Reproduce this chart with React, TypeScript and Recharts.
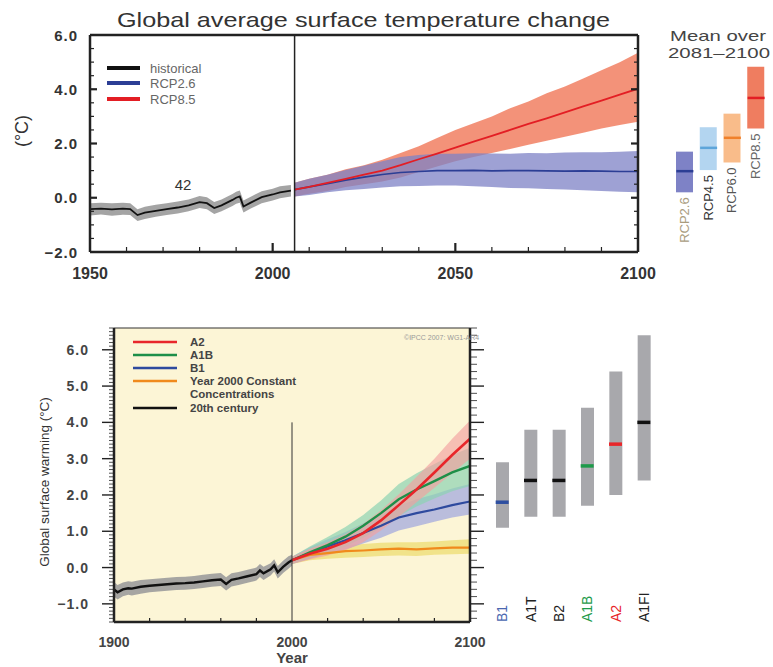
import React from 'react';
import {
  ComposedChart,
  Line,
  Area,
  Bar,
  Cell,
  Scatter,
  XAxis,
  YAxis,
  CartesianGrid,
  ReferenceLine,
  LabelList,
} from 'recharts';

// ---------- upper panel: AR5 / CMIP5 ----------
const histYears = [1950, 1953, 1956, 1959, 1961, 1963, 1965, 1968, 1971, 1974, 1977, 1980, 1982, 1984, 1986, 1989, 1990, 1991, 1992, 1994, 1997, 2000, 2002, 2005];
const histMean = [-0.42, -0.4, -0.43, -0.4, -0.42, -0.64, -0.55, -0.48, -0.42, -0.36, -0.28, -0.16, -0.2, -0.38, -0.28, -0.08, 0.0, 0.05, -0.32, -0.18, 0.02, 0.12, 0.2, 0.26];
const histLow = [-0.65, -0.62, -0.66, -0.63, -0.64, -0.86, -0.78, -0.7, -0.64, -0.58, -0.5, -0.38, -0.42, -0.6, -0.5, -0.3, -0.22, -0.18, -0.54, -0.4, -0.2, -0.1, -0.02, 0.05];
const histHigh = [-0.2, -0.18, -0.2, -0.18, -0.2, -0.42, -0.33, -0.26, -0.2, -0.14, -0.06, 0.06, 0.02, -0.16, -0.06, 0.14, 0.22, 0.27, -0.1, 0.04, 0.24, 0.33, 0.42, 0.47];

const rcpYears = [2006, 2010, 2015, 2020, 2025, 2030, 2035, 2040, 2045, 2050, 2055, 2060, 2065, 2070, 2075, 2080, 2085, 2090, 2095, 2100];
const rcp85Mean = [0.3, 0.4, 0.55, 0.7, 0.85, 1.0, 1.2, 1.42, 1.63, 1.85, 2.07, 2.28, 2.5, 2.72, 2.93, 3.15, 3.37, 3.58, 3.8, 4.02];
const rcp85Low = [0.05, 0.15, 0.25, 0.4, 0.5, 0.6, 0.75, 0.95, 1.15, 1.35, 1.5, 1.65, 1.8, 1.95, 2.1, 2.25, 2.4, 2.55, 2.68, 2.8];
const rcp85High = [0.55, 0.7, 0.85, 1.05, 1.2, 1.4, 1.65, 1.9, 2.2, 2.5, 2.75, 3.0, 3.3, 3.55, 3.85, 4.1, 4.4, 4.7, 5.0, 5.35];
const rcp26Mean = [0.3, 0.4, 0.52, 0.65, 0.76, 0.86, 0.93, 0.97, 1.0, 1.0, 1.01, 0.99, 1.0, 1.0, 0.99, 0.98, 0.99, 0.98, 0.97, 0.97];
const rcp26Low = [0.05, 0.1, 0.2, 0.28, 0.32, 0.38, 0.42, 0.43, 0.45, 0.45, 0.42, 0.4, 0.36, 0.35, 0.32, 0.3, 0.28, 0.25, 0.22, 0.2];
const rcp26High = [0.55, 0.7, 0.85, 1.02, 1.18, 1.35, 1.5, 1.58, 1.62, 1.62, 1.64, 1.63, 1.62, 1.65, 1.64, 1.67, 1.68, 1.68, 1.7, 1.72];

const rcpNames = ['RCP2.6', 'RCP4.5', 'RCP6.0', 'RCP8.5'];
const rcpMean = [0.98, 1.84, 2.21, 3.68];
const rcpLow = [0.2, 1.02, 1.3, 2.55];
const rcpHigh = [1.7, 2.6, 3.1, 4.83];

const topYearLabels = [1950, 2000, 2050, 2100];
const topYLabels = [-2, 0, 2, 4, 6];

// ---------- lower panel: AR4 / SRES ----------
const ar4Years = [1900, 1902, 1905, 1908, 1910, 1915, 1920, 1925, 1930, 1935, 1940, 1945, 1950, 1955, 1960, 1963, 1966, 1970, 1975, 1980, 1982, 1984, 1988, 1990, 1992, 1995, 1998, 2000];
const ar4Mean = [-0.6, -0.68, -0.6, -0.57, -0.58, -0.53, -0.5, -0.48, -0.46, -0.44, -0.43, -0.41, -0.38, -0.35, -0.33, -0.45, -0.34, -0.3, -0.24, -0.18, -0.08, -0.16, -0.05, 0.06, -0.13, 0.02, 0.14, 0.2];
const ar4Low = [-0.8, -0.88, -0.79, -0.75, -0.77, -0.72, -0.68, -0.66, -0.64, -0.62, -0.61, -0.59, -0.56, -0.53, -0.51, -0.63, -0.52, -0.48, -0.42, -0.36, -0.26, -0.34, -0.22, -0.11, -0.3, -0.15, -0.03, 0.05];
const ar4High = [-0.4, -0.48, -0.41, -0.38, -0.39, -0.34, -0.32, -0.3, -0.28, -0.26, -0.25, -0.23, -0.2, -0.17, -0.15, -0.27, -0.16, -0.12, -0.06, 0.0, 0.1, 0.02, 0.12, 0.23, 0.04, 0.19, 0.31, 0.35];

const sresYears = [2000, 2010, 2020, 2030, 2040, 2050, 2060, 2070, 2080, 2090, 2100];
const a2Mean = [0.2, 0.38, 0.52, 0.7, 0.95, 1.3, 1.72, 2.15, 2.62, 3.1, 3.55];
const a2Low = [0.1, 0.22, 0.33, 0.48, 0.7, 1.02, 1.4, 1.8, 2.2, 2.6, 3.0];
const a2High = [0.3, 0.52, 0.7, 0.92, 1.2, 1.58, 2.02, 2.5, 3.0, 3.55, 4.05];
const a1bMean = [0.2, 0.42, 0.62, 0.85, 1.15, 1.5, 1.88, 2.15, 2.38, 2.62, 2.8];
const a1bLow = [0.1, 0.25, 0.4, 0.58, 0.82, 1.1, 1.42, 1.68, 1.9, 2.1, 2.25];
const a1bHigh = [0.3, 0.58, 0.84, 1.12, 1.45, 1.85, 2.3, 2.6, 2.85, 3.1, 3.3];
const b1Mean = [0.2, 0.4, 0.58, 0.75, 0.95, 1.15, 1.38, 1.5, 1.6, 1.72, 1.82];
const b1Low = [0.1, 0.24, 0.38, 0.5, 0.66, 0.82, 1.02, 1.14, 1.26, 1.38, 1.46];
const b1High = [0.3, 0.56, 0.78, 0.98, 1.22, 1.45, 1.7, 1.88, 2.02, 2.18, 2.3];
const constMean = [0.2, 0.35, 0.4, 0.45, 0.47, 0.5, 0.52, 0.5, 0.53, 0.55, 0.55];
const constLow = [0.1, 0.2, 0.24, 0.27, 0.29, 0.32, 0.33, 0.32, 0.35, 0.37, 0.38];
const constHigh = [0.3, 0.5, 0.56, 0.62, 0.65, 0.68, 0.7, 0.7, 0.72, 0.75, 0.78];

const sresNames = ['B1', 'A1T', 'B2', 'A1B', 'A2', 'A1FI'];
const sresBest = [1.8, 2.4, 2.4, 2.8, 3.4, 4.0];
const sresLow = [1.1, 1.4, 1.4, 1.7, 2.0, 2.4];
const sresHigh = [2.9, 3.8, 3.8, 4.4, 5.4, 6.4];

const botYearLabels = [1900, 2000, 2100];
const botYLabels = [-1, 0, 1, 2, 3, 4, 5, 6];

// ---------- styles ----------
const FONT = '"Liberation Sans", Arial, sans-serif';
const rcpBoxFill = ['#7E82C6', '#B3D5F0', '#F9BC8A', '#EF7D60'];
const rcpMeanStroke = ['#2C3E95', '#5DA5DA', '#F0802A', '#E31E24'];
const rcpLabelFill = ['#A99C7E', '#333', '#555', '#666'];
const sresMarkStroke = ['#2E4FA0', '#111', '#111', '#1E9A4A', '#E8262A', '#111'];
const sresLabelFill = ['#4A67B0', '#222', '#222', '#1E9A4A', '#E8262A', '#222'];

const ticksBetween = (from: number, to: number, step: number) => {
  const out: number[] = [];
  for (let v = from; v <= to + 1e-9; v += step) out.push(Math.round(v * 100) / 100);
  return out;
};
const fmt = (v: number) => (v < 0 ? '\u2212' : '') + Math.abs(v).toFixed(1);

// ---------- tables ----------
const topData = [
  ...histYears.map((year, i) => ({ year, hist: histMean[i], histBand: [histLow[i], histHigh[i]] })),
  ...rcpYears.map((year, i) => ({
    year,
    rcp26: rcp26Mean[i],
    rcp26Band: [rcp26Low[i], rcp26High[i]],
    rcp85: rcp85Mean[i],
    rcp85Band: [rcp85Low[i], rcp85High[i]],
  })),
];
const rcpBoxData = rcpNames.map((name, i) => ({ name, mean: rcpMean[i], range: [rcpLow[i], rcpHigh[i]] }));

const botData = [
  ...ar4Years.map((year, i) => ({ year, hist: ar4Mean[i], histBand: [ar4Low[i], ar4High[i]] })),
  ...sresYears.map((year, i) => ({
    year,
    a2: a2Mean[i], a2Band: [a2Low[i], a2High[i]],
    a1b: a1bMean[i], a1bBand: [a1bLow[i], a1bHigh[i]],
    b1: b1Mean[i], b1Band: [b1Low[i], b1High[i]],
    cst: constMean[i], cstBand: [constLow[i], constHigh[i]],
  })),
];
const sresData = sresNames.map((name, i) => ({ name, best: sresBest[i], range: [sresLow[i], sresHigh[i]] }));

const AX = { stroke: '#222', strokeWidth: 2.5 };

// tick mark drawn by hand at the axis position (tickSize and tickMargin are 0),
// dx/dy point the mark in or out of the plot
type TickOpts = {
  dx: number; dy: number;
  majors: number[]; majorLen: number; minorLen: number;
  majorW?: number; minorW?: number;
  labels?: number[]; format?: (v: number) => string;
  side?: 'left' | 'bottom'; gap?: number; fontSize?: number; fill?: string; spacing?: number;
};

function MarkTick(props: any) {
  const { x, y, payload } = props;
  const o: TickOpts = props.o;
  const v = payload.value;
  const major = o.majors.includes(v);
  const len = major ? o.majorLen : o.minorLen;
  const showLabel = o.labels && o.labels.includes(v);
  const text = o.format ? o.format(v) : String(v);
  return (
    <g>
      {len > 0 && (
        <line x1={x} y1={y} x2={x + o.dx * len} y2={y + o.dy * len}
          stroke="#222" strokeWidth={major ? o.majorW ?? 2 : o.minorW ?? 1} />
      )}
      {showLabel && o.side === 'left' && (
        <text x={x - (o.gap ?? 0)} y={y} textAnchor="end" dominantBaseline="central"
          fontSize={o.fontSize} fontWeight={700} fontFamily={FONT} fill={o.fill} letterSpacing={o.spacing ?? 0}>
          {text}
        </text>
      )}
      {showLabel && o.side === 'bottom' && (
        <text x={x} y={y + (o.gap ?? 0)} textAnchor="middle"
          fontSize={o.fontSize} fontWeight={700} fontFamily={FONT} fill={o.fill}>
          {text}
        </text>
      )}
    </g>
  );
}

function RcpLabel(props: any) {
  const vb = props.viewBox || props;
  const cx = vb.x + vb.width / 2;
  const top = Math.max(vb.y, vb.y + vb.height) + 5;
  const i = rcpNames.indexOf(props.value);
  return (
    <text x={cx} y={top} transform={`rotate(-90 ${cx} ${top})`} textAnchor="end" dominantBaseline="central"
      fontSize={13} fontFamily={FONT} fill={rcpLabelFill[i]}>
      {props.value}
    </text>
  );
}

function SresTick(props: any) {
  const { x, payload } = props;
  const y = 322;
  const i = sresNames.indexOf(payload.value);
  return (
    <text x={x} y={y} transform={`rotate(-90 ${x} ${y})`} textAnchor="start" dominantBaseline="central"
      fontSize={14} fontFamily={FONT} fill={sresLabelFill[i]}>
      {payload.value}
    </text>
  );
}

const meanMark = (half: number, strokes: string[], names: string[], width: number) => (p: any) => (
  <line x1={p.cx - half} x2={p.cx + half} y1={p.cy} y2={p.cy}
    stroke={strokes[names.indexOf(p.payload.name)]} strokeWidth={width} />
);

function TopChart() {
  const dom: [number, number] = [1950, 2100];
  const ydom: [number, number] = [-2, 6];
  const decades = ticksBetween(1950, 2100, 10);
  const halves = ticksBetween(-2, 6, 0.5);
  const xo = { majors: [2000, 2050], majorLen: 9, minorLen: 5, majorW: 2.2, minorW: 1.2 };
  const yo = { majors: [0, 2, 4], majorLen: 7, minorLen: 4, majorW: 2.2, minorW: 1.2 };
  return (
    <ComposedChart width={660} height={290} data={topData} margin={{ top: 35, right: 22, bottom: 37, left: 89 }}>
      <XAxis xAxisId="x" dataKey="year" type="number" domain={dom} allowDataOverflow ticks={decades} interval={0}
        height={1} tickSize={0} tickMargin={0} tickLine={false} axisLine={AX}
        tick={<MarkTick o={{ ...xo, dx: 0, dy: -1, labels: topYearLabels, side: 'bottom', gap: 27, fontSize: 16, fill: '#333' }} />} />
      <XAxis xAxisId="xt" orientation="top" type="number" domain={dom} allowDataOverflow ticks={decades} interval={0}
        mirror height={1} tickSize={0} tickMargin={0} tickLine={false} axisLine={AX}
        tick={<MarkTick o={{ ...xo, dx: 0, dy: 1 }} />} />
      <YAxis yAxisId="y" type="number" domain={ydom} allowDataOverflow ticks={halves} interval={0} width={1}
        tickSize={0} tickMargin={0} tickLine={false} axisLine={AX}
        tick={<MarkTick o={{ ...yo, dx: 1, dy: 0, labels: topYLabels, format: fmt, side: 'left', gap: 12, fontSize: 15, fill: '#333', spacing: 1 }} />} />
      <YAxis yAxisId="yr" orientation="right" type="number" domain={ydom} allowDataOverflow ticks={halves} interval={0}
        mirror width={1} tickSize={0} tickMargin={0} tickLine={false} axisLine={AX}
        tick={<MarkTick o={{ ...yo, dx: -1, dy: 0 }} />} />

      <Area xAxisId="x" yAxisId="y" dataKey="histBand" stroke="none" fill="#9a9a9a" fillOpacity={0.9} isAnimationActive={false} activeDot={false} />
      <Area xAxisId="x" yAxisId="y" dataKey="rcp85Band" stroke="none" fill="#F2866A" fillOpacity={0.9} isAnimationActive={false} activeDot={false} />
      <Area xAxisId="x" yAxisId="y" dataKey="rcp26Band" stroke="none" fill="#7E82C6" fillOpacity={0.75} isAnimationActive={false} activeDot={false} />
      <Line xAxisId="x" yAxisId="y" dataKey="hist" stroke="#111" strokeWidth={1.8} dot={false} activeDot={false} isAnimationActive={false} />
      <Line xAxisId="x" yAxisId="y" dataKey="rcp26" stroke="#2C3E95" strokeWidth={1.6} dot={false} activeDot={false} isAnimationActive={false} />
      <Line xAxisId="x" yAxisId="y" dataKey="rcp85" stroke="#E31E24" strokeWidth={1.8} dot={false} activeDot={false} isAnimationActive={false} />
      <ReferenceLine xAxisId="x" yAxisId="y" x={2006} stroke="#222" strokeWidth={1.5} />
    </ComposedChart>
  );
}

function RcpBoxes() {
  return (
    <ComposedChart width={108} height={290} data={rcpBoxData} margin={{ top: 35, right: 5, bottom: 38, left: 8 }}>
      <XAxis dataKey="name" type="category" hide height={0} />
      <YAxis type="number" domain={[-2, 6]} allowDataOverflow hide width={0} />
      <Bar dataKey="range" barSize={17} isAnimationActive={false}>
        {rcpBoxData.map((d, i) => <Cell key={d.name} fill={rcpBoxFill[i]} />)}
        <LabelList dataKey="name" content={RcpLabel} />
      </Bar>
      <Scatter dataKey="mean" isAnimationActive={false} shape={meanMark(8.5, rcpMeanStroke, rcpNames, 2.5)} />
    </ComposedChart>
  );
}

function BottomChart() {
  const dom: [number, number] = [1900, 2100];
  const ydom: [number, number] = [-1.5, 6.6];
  const twenties = ticksBetween(1900, 2100, 20);
  return (
    <ComposedChart width={490} height={367} data={botData} margin={{ top: 28, right: 20, bottom: 44, left: 113 }}>
      <CartesianGrid xAxisId="x" yAxisId="y" horizontal={false} vertical={false} fill="#FCF5D6" stroke="none" />
      <XAxis xAxisId="x" dataKey="year" type="number" domain={dom} allowDataOverflow ticks={twenties} interval={0}
        height={1} tickSize={0} tickMargin={0} tickLine={false} axisLine={AX}
        tick={<MarkTick o={{ dx: 0, dy: -1, majors: botYearLabels, majorLen: 0, minorLen: 4, minorW: 1.2,
          labels: botYearLabels, side: 'bottom', gap: 25, fontSize: 14, fill: '#444' }} />} />
      <XAxis xAxisId="xt" orientation="top" type="number" domain={dom} allowDataOverflow ticks={twenties} interval={0}
        mirror height={1} tickSize={0} tickMargin={0} tickLine={false} axisLine={{ stroke: '#333', strokeWidth: 1.2 }}
        tick={<MarkTick o={{ dx: 0, dy: -1, majors: botYearLabels, majorLen: 7, minorLen: 4, majorW: 2.2, minorW: 1.2 }} />} />
      <YAxis yAxisId="y" type="number" domain={ydom} allowDataOverflow ticks={ticksBetween(-1.5, 6.6, 0.1)} interval={0} width={1}
        tickSize={0} tickMargin={0} tickLine={false} axisLine={AX}
        tick={<MarkTick o={{ dx: -1, dy: 0, majors: botYLabels, majorLen: 12, minorLen: 5, majorW: 1.4, minorW: 0.8,
          labels: botYLabels, format: fmt, side: 'left', gap: 25, fontSize: 14, fill: '#444', spacing: 1 }} />} />
      <YAxis yAxisId="yr" orientation="right" type="number" domain={ydom} allowDataOverflow ticks={ticksBetween(-1.4, 6.6, 0.2)} interval={0}
        mirror width={1} tickSize={0} tickMargin={0} tickLine={false} axisLine={AX}
        tick={<MarkTick o={{ dx: 1, dy: 0, majors: botYLabels, majorLen: 14, minorLen: 7, majorW: 1.4, minorW: 0.8 }} />} />

      <Area xAxisId="x" yAxisId="y" dataKey="histBand" stroke="none" fill="#9C9C9C" fillOpacity={0.9} isAnimationActive={false} activeDot={false} />
      <Area xAxisId="x" yAxisId="y" dataKey="cstBand" stroke="none" fill="#EEDC72" fillOpacity={0.75} isAnimationActive={false} activeDot={false} />
      <Area xAxisId="x" yAxisId="y" dataKey="b1Band" stroke="none" fill="#A4A9DE" fillOpacity={0.75} isAnimationActive={false} activeDot={false} />
      <Area xAxisId="x" yAxisId="y" dataKey="a1bBand" stroke="none" fill="#8DD3B2" fillOpacity={0.7} isAnimationActive={false} activeDot={false} />
      <Area xAxisId="x" yAxisId="y" dataKey="a2Band" stroke="none" fill="#F2A0A0" fillOpacity={0.65} isAnimationActive={false} activeDot={false} />
      <Line xAxisId="x" yAxisId="y" dataKey="cst" stroke="#F08A1C" strokeWidth={2.2} dot={false} activeDot={false} isAnimationActive={false} />
      <Line xAxisId="x" yAxisId="y" dataKey="b1" stroke="#2E4A9E" strokeWidth={2.2} dot={false} activeDot={false} isAnimationActive={false} />
      <Line xAxisId="x" yAxisId="y" dataKey="a1b" stroke="#1E8F48" strokeWidth={2.4} dot={false} activeDot={false} isAnimationActive={false} />
      <Line xAxisId="x" yAxisId="y" dataKey="a2" stroke="#E8262A" strokeWidth={2.6} dot={false} activeDot={false} isAnimationActive={false} />
      <Line xAxisId="x" yAxisId="y" dataKey="hist" stroke="#111" strokeWidth={2.4} dot={false} activeDot={false} isAnimationActive={false} />
      <ReferenceLine xAxisId="x" yAxisId="y" segment={[{ x: 2000, y: 4 }, { x: 2000, y: -1.5 }]} stroke="#333" strokeWidth={1} />
    </ComposedChart>
  );
}

function SresBars() {
  return (
    <ComposedChart width={180} height={367} data={sresData} margin={{ top: 28, right: 2, bottom: 44, left: 8 }}>
      <XAxis dataKey="name" type="category" height={1} tickSize={0} tickMargin={0} axisLine={false} tickLine={false}
        interval={0} tick={<SresTick />} />
      <YAxis type="number" domain={[-1.5, 6.6]} allowDataOverflow hide width={0} />
      <Bar dataKey="range" barSize={13} fill="#A8A8AC" isAnimationActive={false} />
      <Scatter dataKey="best" isAnimationActive={false} shape={meanMark(6.5, sresMarkStroke, sresNames, 3.5)} />
    </ComposedChart>
  );
}

const topLegend = [
  { label: 'historical', color: '#111', y: 68 },
  { label: 'RCP2.6', color: '#2C3E95', y: 83 },
  { label: 'RCP8.5', color: '#E31E24', y: 99 },
];
const botLegend = [
  { label: 'A2', color: '#E8262A', y: 342 },
  { label: 'A1B', color: '#1E8F48', y: 355 },
  { label: 'B1', color: '#2E4A9E', y: 368 },
  { label: 'Year 2000 Constant', color: '#F08A1C', y: 381 },
  { label: '20th century', color: '#111', y: 408 },
];

function Texts() {
  return (
    <svg width={773} height={667} style={{ position: 'absolute', left: 0, top: 0, pointerEvents: 'none' }} fontFamily={FONT}>
      <text x={117} y={27} fontSize={21} fill="#333" textLength={493} lengthAdjust="spacingAndGlyphs">
        Global average surface temperature change
      </text>
      <text x={22} y={131} fontSize={18} fill="#333" textAnchor="middle" dominantBaseline="central" transform="rotate(-90 22 131)">(°C)</text>
      {topLegend.map((d) => (
        <g key={d.label}>
          <line x1={107} x2={140} y1={d.y} y2={d.y} stroke={d.color} strokeWidth={4} />
          <text x={150} y={d.y + 4.5} fontSize={13} fill="#666">{d.label}</text>
        </g>
      ))}
      <text x={183} y={190} fontSize={15} fill="#333" textAnchor="middle">42</text>
      <text x={670} y={41} fontSize={15} fill="#444" textLength={96} lengthAdjust="spacingAndGlyphs">Mean over</text>
      <text x={668} y={58} fontSize={15} fill="#444" textLength={102} lengthAdjust="spacingAndGlyphs">2081–2100</text>

      {botLegend.map((d) => (
        <g key={d.label}>
          <line x1={133} x2={177} y1={d.y} y2={d.y} stroke={d.color} strokeWidth={2.5} />
          <text x={190} y={d.y + 4} fontSize={11.5} fontWeight={700} fill="#444">{d.label}</text>
        </g>
      ))}
      <text x={190} y={398} fontSize={11.5} fontWeight={700} fill="#444">Concentrations</text>
      <text x={404} y={340} fontSize={7} fill="#999">©IPCC 2007: WG1-AR4</text>
      <text x={44} y={482} fontSize={13.5} fill="#333" textAnchor="middle" dominantBaseline="central" transform="rotate(-90 44 482)">
        Global surface warming (°C)
      </text>
      <text x={292} y={663} fontSize={15} fontWeight={700} fill="#444" textAnchor="middle">Year</text>
    </svg>
  );
}

export default function App() {
  return (
    <div style={{ position: 'absolute', left: 0, top: 0, width: 773, height: 667, background: '#fff', overflow: 'hidden', fontFamily: FONT }}>
      <div style={{ position: 'absolute', left: 0, top: 0 }}><TopChart /></div>
      <div style={{ position: 'absolute', left: 665, top: 0 }}><RcpBoxes /></div>
      <div style={{ position: 'absolute', left: 0, top: 300 }}><BottomChart /></div>
      <div style={{ position: 'absolute', left: 480, top: 300 }}><SresBars /></div>
      <Texts />
    </div>
  );
}
